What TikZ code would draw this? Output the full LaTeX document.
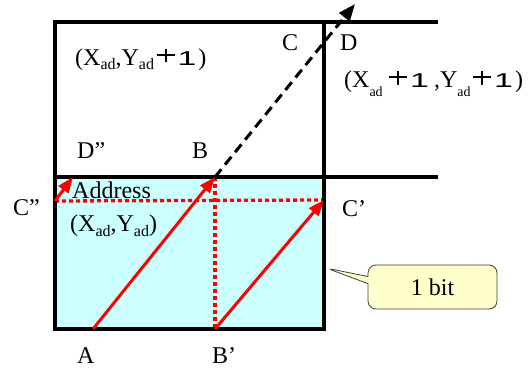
\documentclass[tikz,border=0pt]{standalone}
\usepackage{fontspec}
\setmainfont{Liberation Serif}
\newfontfamily\plusfont{Liberation Sans}
\usepackage{tikz}
\usetikzlibrary{arrows.meta, shapes.callouts}

\definecolor{cellcyan}{HTML}{CCFFFF}
\definecolor{noteyellow}{HTML}{FFFFCC}

\newcommand{\adsub}[2][-5pt]{\raisebox{#1}{\fontsize{#2}{#2}\selectfont ad}}
\newcommand{\bigplus}{\kern1.5pt\rlap{\raisebox{8.5pt}{\rule{18pt}{2pt}}}\kern8pt\raisebox{2.5pt}{\rule{2pt}{14pt}}\kern8pt\kern1.5pt}
\newcommand{\plusone}{\bigplus\kern1.5pt{\plusfont\fontsize{20}{20}\selectfont\scalebox{1.7}[1]{1}}}

\tikzset{
  grid line/.style={line width=3.2pt},
  red arrow/.style={red, line width=3pt, -{Triangle[length=16pt,width=12pt]}},
  red dots/.style={red, line width=3.3pt, dash pattern=on 4pt off 3pt},
  jump arrow/.style={line width=3pt, dash pattern=on 10pt off 6pt, -{Triangle[length=17pt,width=13pt]}},
  lbl/.style={inner sep=0pt, anchor=base west, font=\fontsize{24}{28}\selectfont},
  callout box/.style={rectangle callout, draw=black!75, fill=noteyellow, line width=0.8pt,
    rounded corners=8pt, minimum width=129pt, minimum height=44pt, inner sep=0pt,
    font=\fontsize{24}{28}\selectfont},
}

\begin{document}
\begin{tikzpicture}[x=1pt,y=-1pt]
  \useasboundingbox (0,0) rectangle (532,369);

  % Cell corners
  \coordinate (tl) at (55,22);
  \coordinate (tm) at (324,22);
  \coordinate (tr) at (438,22);
  \coordinate (ml) at (55,177);
  \coordinate (mr) at (438,177);
  \coordinate (bl) at (55,329);
  \coordinate (br) at (324,329);

  % Points of the scan
  \coordinate (A) at (93,329);
  \coordinate (B) at (215,177);
  \coordinate (Bp) at (215,329);
  \coordinate (Cp) at (324,200);
  \coordinate (Cpp) at (55,201);
  \coordinate (Dpp) at (73,177);
  \coordinate (out) at (355,4);
  \coordinate (bitmark) at (326,268);

  % Address cell
  \fill[cellcyan] (ml) rectangle (br);

  % Dotted guides
  \draw[red dots] (Cpp) -- (Cp);
  \draw[red dots] (B) -- (Bp);

  % Grid
  \draw[grid line] (tr) -- (tl) -- (bl) -- (br) -- (tm);
  \draw[grid line] (ml) -- (mr);

  % Scan arrows
  \draw[red arrow] (A) -- (B);
  \draw[red arrow] (Bp) -- (Cp);
  \draw[red arrow] (Cpp) -- (Dpp);
  \draw[jump arrow] (B) -- (out);

  % Labels
  \node[lbl] (upper) at (75,65) {(X\adsub{16},Y\adsub{16}\kern1pt\plusone\kern2pt)};
  \node[lbl] (diag) at (344,87) {(X\adsub[-9pt]{14}\kern5pt\plusone\kern5pt,Y\adsub[-9pt]{14}\kern1pt\plusone\kern2pt)};
  \node[lbl] (lC) at (282,50) {C};
  \node[lbl] (lD) at (340,50) {D};
  \node[lbl] (lDpp) at (77,158) {D”};
  \node[lbl] (lB) at (192,158) {B};
  \node[lbl] (addr) at (72,198) {Address};
  \node[lbl] (lower) at (70,231) {(X\adsub{16},Y\adsub{16})};
  \node[lbl] (lCpp) at (13,215) {C”};
  \node[lbl] (lCp) at (342,216) {C’};
  \node[lbl] (lA) at (77,363) {A};
  \node[lbl] (lBp) at (212,363) {B’};

  % Callout
  \node[callout box, callout absolute pointer=(bitmark)] (bit) at (432.5,287) {1 bit};
\end{tikzpicture}
\end{document}
